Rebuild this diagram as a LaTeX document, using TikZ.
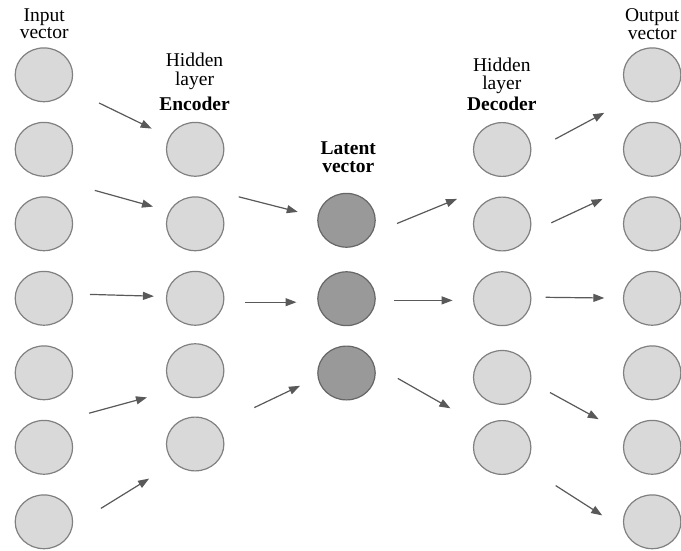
\documentclass[tikz,border=0pt]{standalone}
\usepackage{fontspec}
\setmainfont{Liberation Serif}
\usetikzlibrary{shapes.geometric,arrows.meta}
\begin{document}
\begin{tikzpicture}[x=1pt,y=-1pt,
  neuron/.style={ellipse,draw=black!50,line width=1.2pt,fill=black!15,
    minimum width=57.4pt,minimum height=53.8pt,inner sep=0pt},
  latentn/.style={neuron,fill=black!40,draw=black!60},
  lbl/.style={align=center,inner sep=0pt,anchor=north,
    font=\fontsize{19.5}{17.6}\selectfont},
  arr/.style={draw=black!65,line width=1.2pt,-{Triangle[length=11pt,width=8pt]}}]
\useasboundingbox (0,0) rectangle (681,551);

% input and output columns
\foreach \y [count=\i] in {74.8,149.3,223.8,298.3,372.8,447.3,521.8}{
  \node[neuron] (in\i) at (43.9,\y) {};
  \node[neuron] (out\i) at (652.2,\y) {};
}
% encoder
\foreach \y [count=\i] in {149.3,223.8,298.3,370.7,444.0}{
  \node[neuron] (enc\i) at (195.2,\y) {};
}
% latent
\foreach \y [count=\i] in {220.3,298.7,373.0}{
  \node[latentn] (lat\i) at (346.5,\y) {};
}
% decoder
\foreach \y [count=\i] in {149.5,224.0,298.7,377.4,447.5}{
  \node[neuron] (dec\i) at (502.2,\y) {};
}

% labels
\node[lbl] (linput) at (44.2,8.4) {Input\\vector};
\node[lbl] (lenc) at (194.5,52.8) {Hidden\\[1.7pt]layer\\[5.7pt]\textbf{Encoder}};
\node[lbl] (llat) at (348.3,141.2) {\textbf{Latent}\\[0.7pt]\textbf{vector}};
\node[lbl] (ldec) at (501.8,57.6) {Hidden\\[0.7pt]layer\\[2.4pt]\textbf{Decoder}};
\node[lbl] (loutput) at (652.2,8.4) {Output\\vector};

% arrow end points
\coordinate (a1s) at (99.1,103.0);  \coordinate (a1e) at (151.7,128.6);
\coordinate (a2s) at (94.8,190.4);  \coordinate (a2e) at (153.0,206.6);
\coordinate (a3s) at (90.0,294.4);  \coordinate (a3e) at (153.9,296.2);
\coordinate (a4s) at (89.1,413.2);  \coordinate (a4e) at (147.0,397.4);
\coordinate (a5s) at (100.9,508.4); \coordinate (a5e) at (149.1,478.6);

\coordinate (b1s) at (238.7,196.8); \coordinate (b1e) at (297.8,211.9);
\coordinate (b2s) at (245.2,302.2); \coordinate (b2e) at (296.5,302.2);
\coordinate (b3s) at (254.3,407.6); \coordinate (b3e) at (300.0,385.8);

\coordinate (c1s) at (397.0,223.5); \coordinate (c1e) at (457.0,198.9);
\coordinate (c2s) at (394.3,300.4); \coordinate (c2e) at (452.6,300.4);
\coordinate (c3s) at (397.8,378.4); \coordinate (c3e) at (450.4,408.3);

\coordinate (d1s) at (555.2,139.1); \coordinate (d1e) at (604.3,112.8);
\coordinate (d2s) at (551.3,222.8); \coordinate (d2e) at (602.6,198.9);
\coordinate (d3s) at (545.7,297.3); \coordinate (d3e) at (604.3,298.0);
\coordinate (d4s) at (550.0,392.5); \coordinate (d4e) at (598.7,419.2);
\coordinate (d5s) at (555.7,485.6); \coordinate (d5e) at (602.2,515.4);

\foreach \g/\n in {a/5,b/3,c/3,d/5}{
  \foreach \k in {1,...,\n}{
    \draw[arr] (\g\k s) -- (\g\k e);
  }
}
\end{tikzpicture}
\end{document}
